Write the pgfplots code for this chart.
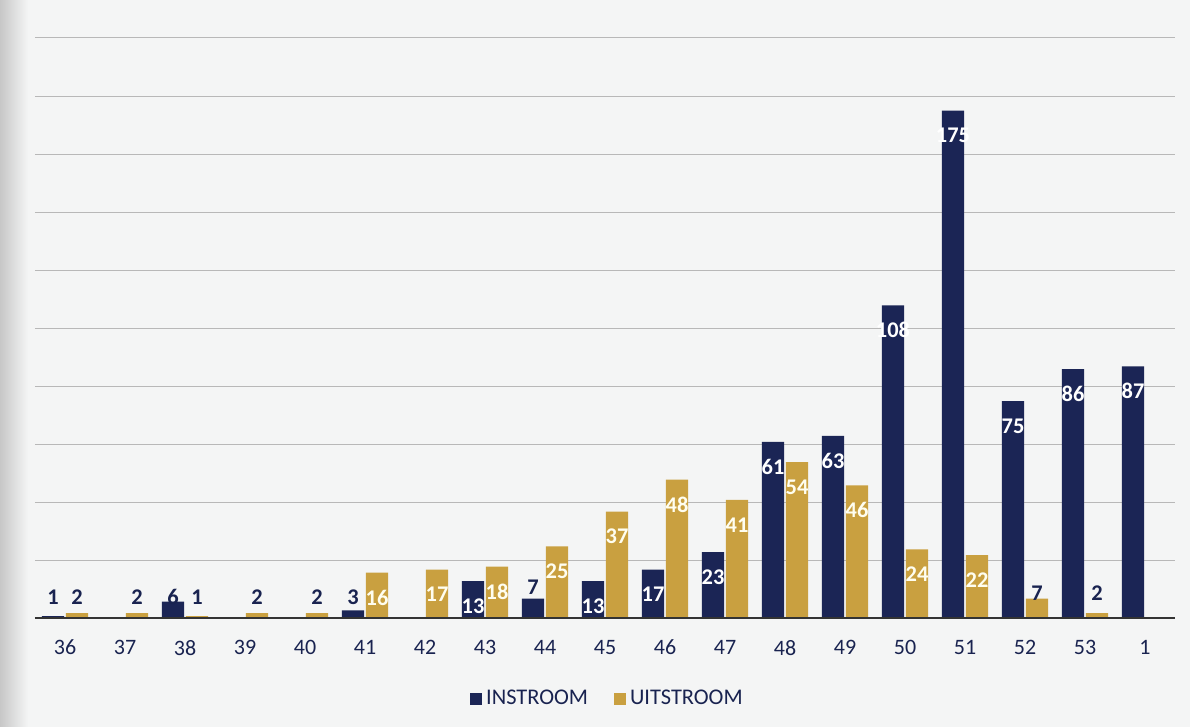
\documentclass[border=0pt]{standalone}
\usepackage{pgfplots}
\pgfplotsset{compat=1.18}
\usepackage{pgfplotstable}
\usepackage{fontspec}
\setmainfont{Carlito}
\definecolor{navy}{RGB}{27,37,85}
\definecolor{gold}{RGB}{201,160,64}
\definecolor{labnavy}{RGB}{25,35,80}
\definecolor{bg}{RGB}{244,245,245}
\pgfplotsset{/pgf/number format/assume math mode=true}

\pgfplotstableread{
x y
0 1
2 6
5 3
7 13
8 7
9 13
10 17
11 23
12 61
13 63
14 108
15 175
16 75
17 86
18 87
}\instroom

\pgfplotstableread{
x y
0 2
1 2
2 1
3 2
4 2
5 16
6 17
7 18
8 25
9 37
10 48
11 41
12 54
13 46
14 24
15 22
16 7
17 2
}\uitstroom

\begin{document}
\begin{tikzpicture}
\fill[bg] (0,0) rectangle (595pt,363.5pt);
\shade[left color=black!22, right color=bg] (0,0) rectangle (14pt,363.5pt);
\begin{axis}[
  at={(17.5pt,54pt)}, anchor=south west,
  scale only axis, width=570pt, height=290.5pt,
  xmin=-0.5, xmax=18.5, ymin=0, ymax=200,
  xtick={0,...,18},
  xticklabels={36,37,38,39,40,41,42,43,44,45,46,47,48,49,50,51,52,53,1},
  ytick={0,20,...,200}, yticklabels={},
  ymajorgrids, grid style={black!28, line width=0.5pt},
  axis line style={draw=none},
  major tick length=0pt,
  xticklabel style={font=\fontsize{11}{12}\selectfont, text=labnavy, yshift=-7pt},
  legend style={at={(0.503,-0.138)}, anchor=center, draw=none, fill=none,
    font=\fontsize{11.2}{13}\selectfont, text=labnavy, legend columns=2,
    /tikz/every even column/.append style={column sep=11pt}},
  legend image code/.code={\fill[#1] (0pt,-3pt) rectangle (6pt,3pt);},
  bar width=11.1pt,
]
\addplot[ybar, bar shift=-6pt, fill=navy, draw=none] table {\instroom};
\addlegendentry{INSTROOM}
\addplot[ybar, bar shift=6pt, fill=gold, draw=none] table {\uitstroom};
\addlegendentry{UITSTROOM}

% labels inside the bars
\addplot[ybar, bar shift=-6pt, draw=none, fill=none, forget plot,
  restrict y to domain=10:300,
  nodes near coords,
  nodes near coords style={font=\bfseries\fontsize{11.2}{12}\selectfont, text=white, anchor=center, xshift=-6pt, yshift=-12.5pt}]
  table {\instroom};
\addplot[ybar, bar shift=6pt, draw=none, fill=none, forget plot,
  restrict y to domain=10:300,
  nodes near coords,
  nodes near coords style={font=\bfseries\fontsize{11.2}{12}\selectfont, text=white!94!yellow, anchor=center, xshift=6pt, yshift=-12.5pt}]
  table {\uitstroom};

% labels above the small bars
\addplot[ybar, bar shift=-6pt, draw=none, fill=none, forget plot,
  point meta=explicit, nodes near coords,
  nodes near coords style={font=\bfseries\fontsize{11.2}{12}\selectfont, text=labnavy, anchor=center, xshift=-6pt}]
  coordinates {(0,7.5) [1] (2,7.5) [6] (5,7.5) [3] (8,11) [7]};
\addplot[ybar, bar shift=6pt, draw=none, fill=none, forget plot,
  point meta=explicit, nodes near coords,
  nodes near coords style={font=\bfseries\fontsize{11.2}{12}\selectfont, text=labnavy, anchor=center, xshift=6pt}]
  coordinates {(0,7.5) [2] (1,7.5) [2] (2,7.5) [1] (3,7.5) [2] (4,7.5) [2] (16,9) [7] (17,9) [2]};

\draw[black!80, line width=1.5pt] (axis cs:-0.5,0) -- (axis cs:18.5,0);
\end{axis}
\pgfresetboundingbox
\path[use as bounding box] (0,0) rectangle (595pt,363.5pt);
\end{tikzpicture}
\end{document}
